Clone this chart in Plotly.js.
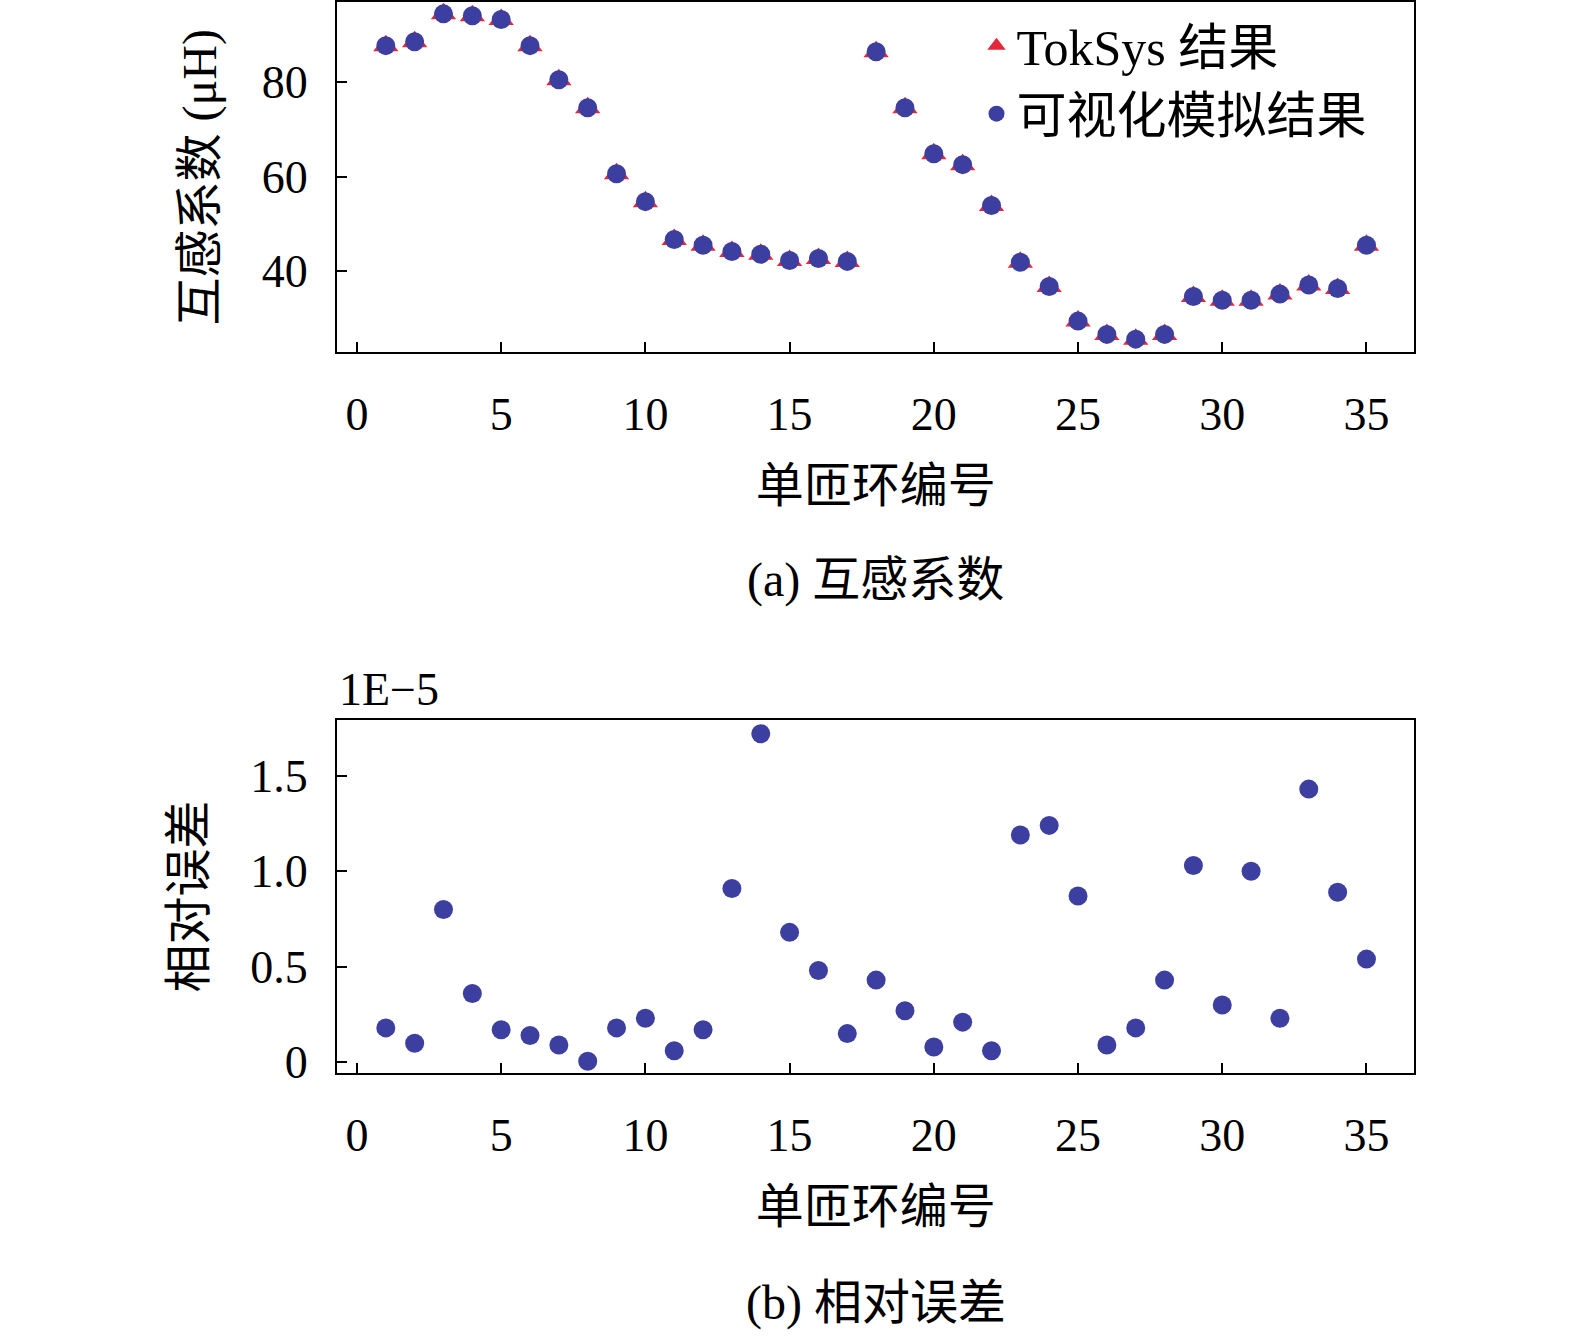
<!DOCTYPE html>
<html>
<head>
<meta charset="utf-8">
<script src="https://cdn.plot.ly/plotly-3.0.1.min.js"></script>
<style>body{margin:0;background:#fff}</style>
</head>
<body>
<div id="graph" style="width:1575px;height:1340px"></div>
<script>
// coil numbers 1..35
const coilNo = [1,2,3,4,5,6,7,8,9,10,11,12,13,14,15,16,17,18,19,20,21,22,23,24,25,26,27,28,29,30,31,32,33,34,35];
// mutual inductance (uH), TokSys and visualization give the same values
const mutualTokSys = [87.6,88.4,94.3,93.9,93.1,87.6,80.4,74.5,60.6,54.7,46.7,45.5,44.2,43.6,42.3,42.7,42.1,86.3,74.5,64.8,62.5,53.9,41.9,36.8,29.5,26.7,25.7,26.7,34.7,33.9,33.9,35.2,37.1,36.4,45.5];
const mutualVis = mutualTokSys.slice();
// relative error, in units of 1E-5
const relError = [0.18,0.10,0.80,0.36,0.17,0.14,0.09,0.005,0.18,0.23,0.06,0.17,0.91,1.72,0.68,0.48,0.15,0.43,0.27,0.08,0.21,0.06,1.19,1.24,0.87,0.09,0.18,0.43,1.03,0.30,1.00,0.23,1.43,0.89,0.54];

const serif = 'Liberation Serif, Noto Sans CJK SC, serif';
const blue = '#3c3f9f';
const red = '#e2283a';

const traces = [
  {x: coilNo, y: mutualTokSys, mode: 'markers', name: 'TokSys 结果', xaxis: 'x', yaxis: 'y',
   marker: {symbol: 'triangle-up', size: 22, color: red}},
  {x: coilNo, y: mutualVis, mode: 'markers', name: '可视化模拟结果', xaxis: 'x', yaxis: 'y',
   marker: {symbol: 'circle', size: 19, color: blue}},
  {x: coilNo, y: relError, mode: 'markers', showlegend: false, xaxis: 'x2', yaxis: 'y2',
   marker: {symbol: 'circle', size: 19, color: blue}}
];

const axBase = {showline: true, mirror: true, linecolor: '#000', linewidth: 2, showgrid: false,
  zeroline: false, ticks: 'inside', ticklen: 10, tickwidth: 2, tickcolor: '#000',
  tickfont: {family: serif, size: 46, color: '#000'}};
const xt = {family: serif, size: 48};

const layout = {
  margin: {l: 0, r: 0, t: 0, b: 0},
  paper_bgcolor: '#fff', plot_bgcolor: '#fff',
  font: {family: serif, color: '#000'},
  xaxis: Object.assign({}, axBase, {domain: [0.214, 0.898], range: [-0.69, 36.66], tickvals: [0,5,10,15,20,25,30,35],
    ticklabelstandoff: 20, anchor: 'y', title: {text: '单匝环编号', font: xt, standoff: 30}}),
  yaxis: Object.assign({}, axBase, {domain: [0.737, 0.9985], range: [22.9, 96.8], tickvals: [40,60,80],
    ticklabelstandoff: 18, anchor: 'x', title: {text: '互感系数 (μH)', font: xt, standoff: 30}}),
  xaxis2: Object.assign({}, axBase, {domain: [0.214, 0.898], range: [-0.69, 36.66], tickvals: [0,5,10,15,20,25,30,35],
    ticklabelstandoff: 20, anchor: 'y2', title: {text: '单匝环编号', font: xt, standoff: 30}}),
  yaxis2: Object.assign({}, axBase, {domain: [0.199, 0.463], range: [-0.058, 1.794], tickvals: [0,0.5,1.0,1.5],
    ticktext: ['0','0.5','1.0','1.5'], ticklabelstandoff: 18, anchor: 'x2', title: {text: '相对误差', font: xt, standoff: 30}}),
  legend: {x: 0.62, y: 0.995, xanchor: 'left', yanchor: 'top', bgcolor: 'rgba(0,0,0,0)',
    font: {family: serif, size: 50, color: '#000'}, itemsizing: 'trace', tracegroupgap: 0},
  annotations: [
    {text: '(a) 互感系数', xref: 'paper', yref: 'paper', x: 0.556, y: 1 - 580/1340, showarrow: false,
     font: {family: serif, size: 48}},
    {text: '(b) 相对误差', xref: 'paper', yref: 'paper', x: 0.556, y: 0, yanchor: 'bottom', yshift: 8, showarrow: false,
     font: {family: serif, size: 48}},
    {text: '1E−5', xref: 'paper', yref: 'paper', x: 0.214, y: 0.465, xanchor: 'left', yanchor: 'bottom',
     showarrow: false, font: {family: serif, size: 46}}
  ]
};

Plotly.newPlot('graph', traces, layout, {displayModeBar: false});
</script>
</body>
</html>
